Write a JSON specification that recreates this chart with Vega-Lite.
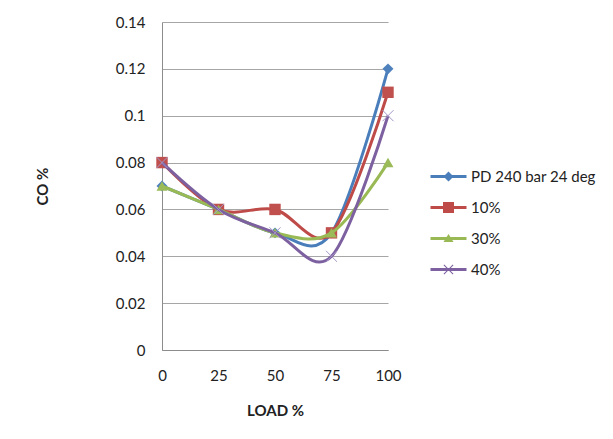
{
  "$schema": "https://vega.github.io/schema/vega-lite/v6.json",
  "autosize": "none",
  "width": 226,
  "height": 328,
  "padding": {"left": 162, "top": 22, "right": 225, "bottom": 89},
  "background": "white",
  "config": {
    "font": "Lato",
    "view": {"stroke": null},
    "axis": {
      "ticks": false,
      "labelFlush": false,
      "domainColor": "#8c8c8c",
      "gridColor": "#a6a6a6",
      "labelFont": "Lato",
      "labelFontSize": 15,
      "labelColor": "#222222",
      "titleFont": "Lato",
      "titleFontSize": 15,
      "titleFontWeight": "bold",
      "titleColor": "#222222"
    },
    "legend": {
      "labelFont": "Lato",
      "labelFontSize": 15,
      "labelColor": "#222222",
      "symbolSize": 100,
      "symbolOpacity": 1,
      "symbolStrokeWidth": 0,
      "labelOffset": 15,
      "rowPadding": 15,
      "padding": 0,
      "symbolOffset": 0
    }
  },
  "data": {
    "values": [
      {"series": "PD 240 bar 24 deg", "load": 0, "co": 0.07},
      {"series": "PD 240 bar 24 deg", "load": 25, "co": 0.06},
      {"series": "PD 240 bar 24 deg", "load": 50, "co": 0.05},
      {"series": "PD 240 bar 24 deg", "load": 75, "co": 0.05},
      {"series": "PD 240 bar 24 deg", "load": 100, "co": 0.12},
      {"series": "10%", "load": 0, "co": 0.08},
      {"series": "10%", "load": 25, "co": 0.06},
      {"series": "10%", "load": 50, "co": 0.06},
      {"series": "10%", "load": 75, "co": 0.05},
      {"series": "10%", "load": 100, "co": 0.11},
      {"series": "30%", "load": 0, "co": 0.07},
      {"series": "30%", "load": 25, "co": 0.06},
      {"series": "30%", "load": 50, "co": 0.05},
      {"series": "30%", "load": 75, "co": 0.05},
      {"series": "30%", "load": 100, "co": 0.08},
      {"series": "40%", "load": 0, "co": 0.08},
      {"series": "40%", "load": 25, "co": 0.06},
      {"series": "40%", "load": 50, "co": 0.05},
      {"series": "40%", "load": 75, "co": 0.04},
      {"series": "40%", "load": 100, "co": 0.10}
    ]
  },
  "encoding": {
    "x": {
      "field": "load", "type": "quantitative",
      "scale": {"domain": [0, 100], "nice": false, "zero": false},
      "axis": {"values": [0, 25, 50, 75, 100], "grid": false, "title": "LOAD %", "labelPadding": 18, "titleY": 60, "titleBaseline": "middle"}
    },
    "y": {
      "field": "co", "type": "quantitative",
      "scale": {"domain": [0, 0.14], "nice": false},
      "axis": {"values": [0, 0.02, 0.04, 0.06, 0.08, 0.1, 0.12, 0.14], "format": "~g", "grid": true, "title": "CO %", "labelPadding": 17, "titleX": -120, "titleY": 164, "titleBaseline": "middle", "titleAngle": -90}
    }
  },
  "layer": [
    {"transform": [{"filter": "datum.series === 'PD 240 bar 24 deg'"}], "mark": {"type": "line", "interpolate": "cardinal", "strokeWidth": 3, "color": "#4A7EBB"}, "encoding": {}},
    {"transform": [{"filter": "datum.series === 'PD 240 bar 24 deg'"}], "mark": {"type": "point", "shape": "diamond", "filled": true, "size": 120, "opacity": 1, "color": "#4F81BD"}, "encoding": {}},
    {"transform": [{"filter": "datum.series === '10%'"}], "mark": {"type": "line", "interpolate": "cardinal", "strokeWidth": 3, "color": "#BE4B48"}, "encoding": {}},
    {"transform": [{"filter": "datum.series === '10%'"}], "mark": {"type": "point", "shape": "square", "filled": true, "size": 130, "opacity": 1, "color": "#C0504D"}, "encoding": {}},
    {"transform": [{"filter": "datum.series === '30%'"}], "mark": {"type": "line", "interpolate": "cardinal", "strokeWidth": 3, "color": "#98B954"}, "encoding": {}},
    {"transform": [{"filter": "datum.series === '30%'"}], "mark": {"type": "point", "shape": "triangle-up", "filled": true, "size": 120, "opacity": 1, "color": "#9BBB59"}, "encoding": {}},
    {"transform": [{"filter": "datum.series === '40%'"}], "mark": {"type": "line", "interpolate": "cardinal", "strokeWidth": 3, "color": "#7D60A0"}, "encoding": {}},
    {"transform": [{"filter": "datum.series === '40%'"}], "mark": {"type": "point", "shape": "M-1,-1L1,1M1,-1L-1,1", "filled": false, "size": 121, "strokeWidth": 1, "opacity": 1, "color": "#A497C8"}, "encoding": {}},
    {
      "mark": {"type": "point", "filled": true, "size": 100, "opacity": 0},
      "encoding": {
        "color": {
          "field": "series", "type": "nominal",
          "scale": {"domain": ["PD 240 bar 24 deg", "10%", "30%", "40%"], "range": ["#4A7EBB", "#BE4B48", "#98B954", "#7D60A0"]},
          "legend": {"title": null, "orient": "none", "legendX": 279, "legendY": 147}
        },
        "shape": {
          "field": "series", "type": "nominal",
          "scale": {"domain": ["PD 240 bar 24 deg", "10%", "30%", "40%"], "range": [
            "M-3.6,-0.3H3.6V0.3H-3.6ZM0,-1L1,0L0,1L-1,0Z",
            "M-3.6,-0.3H3.6V0.3H-3.6ZM-1.1,-1.1H1.1V1.1H-1.1Z",
            "M-3.6,-0.3H3.6V0.3H-3.6ZM0,-0.9L1,0.7H-1Z",
            "M-3.6,-0.3H3.6V0.3H-3.6ZM-1,-0.85L-0.85,-1L1,0.85L0.85,1ZM0.85,-1L1,-0.85L-0.85,1L-1,0.85Z"
          ]},
          "legend": {"title": null, "orient": "none", "legendX": 279, "legendY": 147}
        }
      }
    }
  ]
}
